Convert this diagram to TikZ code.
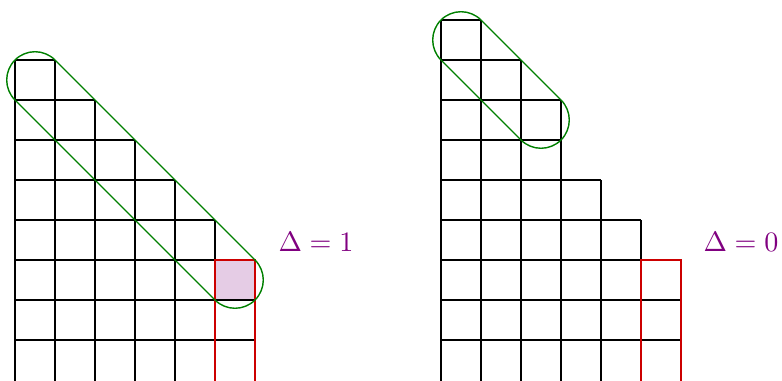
\documentclass[tikz,border=0pt]{standalone}
\usetikzlibrary{calc}

\tikzset{
  cella/.style={black, line width=0.4pt},
  bordo/.style={red!80!black, line width=0.6pt},
  anello/.style={green!50!black, line width=0.5pt},
  etichetta/.style={text=violet}
}

\begin{document}
\begin{tikzpicture}[x=0.5cm,y=0.5cm]
    \useasboundingbox (0,-0.025) rectangle (19.55,9.5);

    % casella evidenziata
    \fill[violet!20] (5.375,2) rectangle (6.375,3);

    % diagramma di sinistra
    \draw[cella] (0.375,-0.025) -- (0.375,8);
    \foreach \h [count=\j from 0] in {8,7,6,5,4} {
        \draw[cella] (1.375+\j,-0.025) -- (1.375+\j,\h);
        \foreach \k in {1,...,\h}
            \draw[cella] (0.375+\j,\k) -- (1.375+\j,\k);
    }
    % ultima colonna
    \foreach \k in {1,2}
        \draw[cella] (5.375,\k) -- (6.375,\k);
    \draw[bordo] (5.375,-0.025) -- (5.375,3) -- (6.375,3) -- (6.375,-0.025);

    % anello diagonale
    \coordinate (sA) at (0.875,7.5);
    \coordinate (sB) at (5.875,2.5);
    \draw[anello] ($(sA)+(45:0.7071)$) arc[start angle=45,end angle=225,radius=0.7071]
        -- ($(sB)+(225:0.7071)$) arc[start angle=225,end angle=405,radius=0.7071] -- cycle;

    \node[etichetta] (delta1) at (7.9,3.45) {$\Delta = 1$};

    % diagramma di destra
    \draw[cella] (11.025,-0.025) -- (11.025,9);
    \foreach \h [count=\j from 0] in {9,8,7,5,4} {
        \draw[cella] (12.025+\j,-0.025) -- (12.025+\j,\h);
        \foreach \k in {1,...,\h}
            \draw[cella] (11.025+\j,\k) -- (12.025+\j,\k);
    }
    % ultima colonna
    \foreach \k in {1,2}
        \draw[cella] (16.025,\k) -- (17.025,\k);
    \draw[bordo] (16.025,-0.025) -- (16.025,3) -- (17.025,3) -- (17.025,-0.025);

    % anello diagonale
    \coordinate (dA) at (11.525,8.5);
    \coordinate (dB) at (13.525,6.5);
    \draw[anello] ($(dA)+(45:0.7071)$) arc[start angle=45,end angle=225,radius=0.7071]
        -- ($(dB)+(225:0.7071)$) arc[start angle=225,end angle=405,radius=0.7071] -- cycle;

    \node[etichetta] (delta0) at (18.525,3.45) {$\Delta = 0$};
\end{tikzpicture}
\end{document}
